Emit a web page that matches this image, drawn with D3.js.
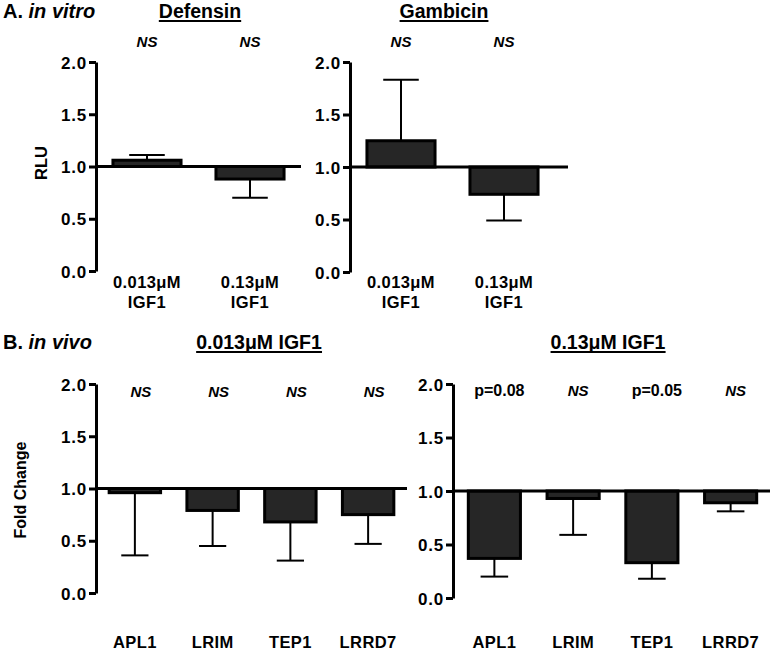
<!DOCTYPE html>
<html>
<head>
<meta charset="utf-8">
<script src="https://cdn.jsdelivr.net/npm/d3@7"></script>
<style>
  html, body { margin: 0; padding: 0; background: #fff; }
  svg { display: block; }
  text { font-family: "Liberation Sans", Arial, Helvetica, sans-serif; font-weight: bold; fill: #000; }
</style>
</head>
<body>
<svg id="chart" width="774" height="656"></svg>
<script>
// ---------- data ----------
const yTicks = [0, 0.5, 1.0, 1.5, 2.0];

const invitroCats = ["0.013μM IGF1", "0.13μM IGF1"];
const invitroCatLines = [["0.013μM", "IGF1"], ["0.13μM", "IGF1"]];
const defensinMean = [1.06, 0.88];
const defensinErr  = [1.11, 0.70];
const defensinSig  = ["NS", "NS"];
const gambicinMean = [1.25, 0.74];
const gambicinErr  = [1.83, 0.49];
const gambicinSig  = ["NS", "NS"];

const genes = ["APL1", "LRIM", "TEP1", "LRRD7"];
const lowDoseMean = [0.96, 0.79, 0.68, 0.75];
const lowDoseErr  = [0.36, 0.45, 0.31, 0.47];
const lowDoseSig  = ["NS", "NS", "NS", "NS"];
const highDoseMean = [0.37, 0.93, 0.33, 0.89];
const highDoseErr  = [0.20, 0.59, 0.18, 0.81];
const highDoseSig  = ["p=0.08", "NS", "p=0.05", "NS"];

// ---------- drawing ----------
const svg = d3.select("#chart");
const fmt = d3.format(".1f");

function underlinedTitle(x, y, txt) {
  const t = svg.append("text").attr("x", x).attr("y", y)
    .attr("text-anchor", "middle").style("font-size", "19.5px").text(txt);
  const bb = t.node().getBBox();
  svg.append("line").attr("x1", bb.x).attr("x2", bb.x + bb.width)
    .attr("y1", y + 3).attr("y2", y + 3)
    .attr("stroke", "#000").attr("stroke-width", 1.8);
}

function panel(cfg) {
  const g = svg.append("g");
  const y = d3.scaleLinear().domain([0, 2]).range([cfg.y0, cfg.y2]);
  const x = d3.scaleBand().domain(cfg.cats).range(cfg.band)
    .paddingInner(cfg.pin).paddingOuter(cfg.pout);

  const data = cfg.cats.map((c, i) => ({ c, m: cfg.mean[i], e: cfg.err[i], s: cfg.sig[i], lab: cfg.labels[i] }));

  // error bars (drawn first, bar covers its part)
  data.forEach(d => {
    const cx = x(d.c) + x.bandwidth() / 2;
    const cw = x.bandwidth() / 4;
    g.append("line").attr("x1", cx).attr("x2", cx)
      .attr("y1", y(d.m)).attr("y2", y(d.e))
      .attr("stroke", "#000").attr("stroke-width", 2);
    g.append("line").attr("x1", cx - cw).attr("x2", cx + cw)
      .attr("y1", y(d.e)).attr("y2", y(d.e))
      .attr("stroke", "#000").attr("stroke-width", 2);
  });

  // bars hanging from the 1.0 baseline
  g.selectAll("rect.bar").data(data).join("rect")
    .attr("class", "bar")
    .attr("x", d => x(d.c) + 1.5)
    .attr("width", x.bandwidth() - 3)
    .attr("y", d => Math.min(y(d.m), y(1)))
    .attr("height", d => Math.abs(y(d.m) - y(1)))
    .attr("fill", "#262626").attr("stroke", "#000").attr("stroke-width", 3);

  // baseline at 1.0
  g.append("line").attr("x1", cfg.axisX).attr("x2", cfg.lineEnd)
    .attr("y1", y(1)).attr("y2", y(1))
    .attr("stroke", "#000").attr("stroke-width", 3);

  // y axis
  const ax = g.append("g").attr("transform", `translate(${cfg.axisX},0)`)
    .call(d3.axisLeft(y).tickValues(yTicks).tickFormat(fmt).tickSize(7).tickSizeOuter(0).tickPadding(2));
  ax.select(".domain").attr("stroke", "#000").attr("stroke-width", 3);
  ax.selectAll(".tick line").attr("stroke", "#000").attr("stroke-width", 3);
  ax.selectAll(".tick text").style("font-size", "17px").style("font-family", "'Liberation Sans', Arial, sans-serif")
    .style("font-weight", "bold").attr("fill", "#000").attr("dy", "0.36em").attr("letter-spacing", "0.8px");

  // significance annotations
  data.forEach(d => {
    const isNS = d.s === "NS";
    g.append("text").attr("x", x(d.c) + x.bandwidth() / 2 + cfg.sigDx).attr("y", cfg.sigY)
      .attr("text-anchor", "middle")
      .style("font-size", isNS ? "15px" : "16px")
      .style("font-style", isNS ? "italic" : "normal")
      .text(d.s);
  });

  // category labels (one text element, lines as tspans)
  data.forEach(d => {
    const cx = x(d.c) + x.bandwidth() / 2;
    const t = g.append("text").attr("x", cx).attr("y", cfg.labY)
      .attr("text-anchor", "middle").style("font-size", "16.5px").attr("letter-spacing", "0.4px");
    d.lab.forEach((line, k) => {
      t.append("tspan").attr("x", cx).attr("dy", k === 0 ? 0 : 19.5).text(line);
    });
  });

  underlinedTitle(cfg.titleX, cfg.titleY, cfg.title);
}

// Panel A
const aHead = svg.append("text").attr("x", 3).attr("y", 18).style("font-size", "20px");
aHead.append("tspan").text("A. ");
aHead.append("tspan").style("font-style", "italic").text("in vitro");

panel({ title: "Defensin", titleX: 200, titleY: 18,
  cats: invitroCats, labels: invitroCatLines, mean: defensinMean, err: defensinErr, sig: defensinSig,
  axisX: 96, band: [96, 301], lineEnd: 301, pin: 0.31, pout: 0.15, y0: 271, y2: 62,
  sigY: 47, sigDx: 0, labY: 288 });

panel({ title: "Gambicin", titleX: 444, titleY: 18,
  cats: invitroCats, labels: invitroCatLines, mean: gambicinMean, err: gambicinErr, sig: gambicinSig,
  axisX: 350, band: [350, 555], lineEnd: 568, pin: 0.31, pout: 0.15, y0: 272, y2: 62,
  sigY: 47, sigDx: 0, labY: 288 });

svg.append("text").attr("transform", "translate(47,163) rotate(-90)")
  .attr("text-anchor", "middle").style("font-size", "16.5px").text("RLU");

// Panel B
const bHead = svg.append("text").attr("x", 3).attr("y", 349).style("font-size", "20px");
bHead.append("tspan").text("B. ");
bHead.append("tspan").style("font-style", "italic").text("in vivo");

panel({ title: "0.013μM IGF1", titleX: 259, titleY: 349,
  cats: genes, labels: genes.map(d => [d]), mean: lowDoseMean, err: lowDoseErr, sig: lowDoseSig,
  axisX: 96, band: [96, 407], lineEnd: 407, pin: 0.3, pout: 0.15, y0: 593, y2: 384,
  sigY: 397, sigDx: 6, labY: 648 });

panel({ title: "0.13μM IGF1", titleX: 608, titleY: 349,
  cats: genes, labels: genes.map(d => [d]), mean: highDoseMean, err: highDoseErr, sig: highDoseSig,
  axisX: 453, band: [455, 770], lineEnd: 770, pin: 0.3, pout: 0.15, y0: 598, y2: 384,
  sigY: 396, sigDx: 5, labY: 648 });

svg.append("text").attr("transform", "translate(26,490) rotate(-90)")
  .attr("text-anchor", "middle").style("font-size", "16px").text("Fold Change");
</script>
</body>
</html>
